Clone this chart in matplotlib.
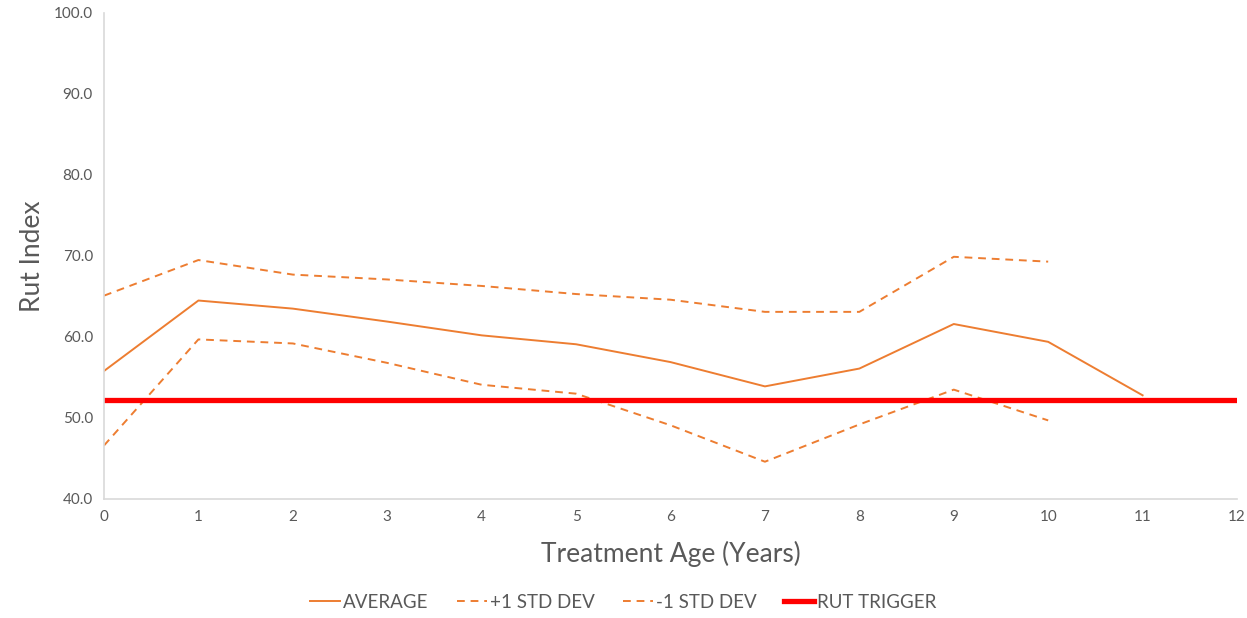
import matplotlib
matplotlib.use("Agg")
import matplotlib.pyplot as plt

plt.rcParams['font.family'] = ['Lato', 'DejaVu Sans']

ages = [0, 1, 2, 3, 4, 5, 6, 7, 8, 9, 10, 11]
average = [55.8, 64.5, 63.5, 61.9, 60.2, 59.1, 56.9, 53.9, 56.1, 61.6, 59.4, 52.8]
std_ages = [0, 1, 2, 3, 4, 5, 6, 7, 8, 9, 10]
plus_std = [65.1, 69.5, 67.7, 67.1, 66.3, 65.3, 64.6, 63.1, 63.1, 69.9, 69.3]
minus_std = [46.6, 59.7, 59.2, 56.8, 54.1, 53.0, 49.1, 44.6, 49.2, 53.5, 49.7]
trigger_ages = [0, 1, 2, 3, 4, 5, 6, 7, 8, 9, 10, 11, 12]
rut_trigger = [52.2] * 13

orange = '#ED7D31'
gray_text = '#595959'

fig = plt.figure(figsize=(12.47, 6.18), dpi=100)
ax = fig.add_axes([0.0834, 0.1926, 0.9086, 0.7864])

ax.plot(ages, average, color=orange, lw=1.4, label='AVERAGE')
ax.plot(std_ages, plus_std, color=orange, lw=1.4, ls=(0, (4, 3)), label='+1 STD DEV')
ax.plot(std_ages, minus_std, color=orange, lw=1.4, ls=(0, (4, 3)), label='-1 STD DEV')
ax.plot(trigger_ages, rut_trigger, color='#FF0000', lw=3.8, label='RUT TRIGGER')

ax.set_xlim(0, 12)
ax.set_ylim(40, 100)
ax.set_xticks(range(0, 13))
ax.set_yticks([40, 50, 60, 70, 80, 90, 100])
ax.set_yticklabels([f'{v:.1f}' for v in [40, 50, 60, 70, 80, 90, 100]])
ax.tick_params(axis='both', length=0, labelsize=11, colors=gray_text, pad=8)

for s in ['top', 'right']:
    ax.spines[s].set_visible(False)
for s in ['left', 'bottom']:
    ax.spines[s].set_color('#D9D9D9')
    ax.spines[s].set_linewidth(1.2)

ax.set_ylabel('Rut Index', fontsize=19, color=gray_text, labelpad=6)
ax.set_xlabel('Treatment Age (Years)', fontsize=19, color=gray_text, labelpad=12)

leg = fig.legend(loc='center', bbox_to_anchor=(0.5, 0.025), ncol=4, frameon=False,
                 fontsize=13.5, handlelength=1.6, handletextpad=0.15, columnspacing=1.5)
for t in leg.get_texts():
    t.set_color(gray_text)

fig.savefig('out.png', dpi=100)
